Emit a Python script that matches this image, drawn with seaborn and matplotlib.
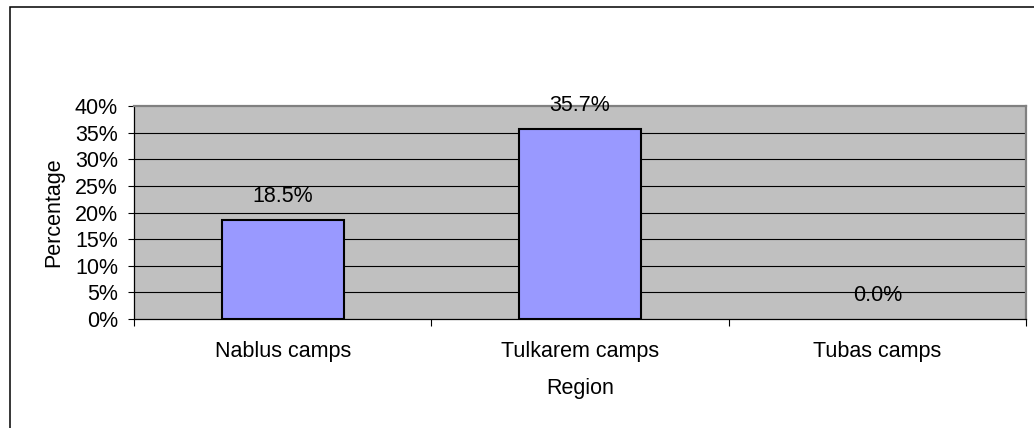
import matplotlib
matplotlib.use("Agg")
import matplotlib.pyplot as plt
import matplotlib.ticker as mticker
from matplotlib.patches import Rectangle
import seaborn as sns
import pandas as pd

regions = ["Nablus camps", "Tulkarem camps", "Tubas camps"]
percentages = [18.5, 35.7, 0.0]
y_ticks = [0, 5, 10, 15, 20, 25, 30, 35, 40]

df = pd.DataFrame({"Region": regions, "Percentage": percentages})

sns.set_theme(style="white")
plt.rcParams["font.family"] = ["Liberation Sans", "DejaVu Sans"]

FS = 15.5
W, H = 1034, 428
fig = plt.figure(figsize=(W / 100, H / 100), dpi=100)
fig.patch.set_facecolor("white")

# outer chart frame (extends past right and bottom edges)
fig.add_artist(Rectangle((9.5 / W, -0.05), 1.2, 1 - 6.5 / H + 0.05, transform=fig.transFigure,
                         fill=False, edgecolor="black", linewidth=1.1))

ax = fig.add_axes([134 / W, 1 - 319 / H, (1026 - 134) / W, (319 - 106) / H])
ax.set_facecolor("#C0C0C0")

sns.barplot(data=df, x="Region", y="Percentage", ax=ax, color="#9999FF",
            saturation=1, width=0.41, edgecolor="black", linewidth=1.5, zorder=3)

# a zero-height bar is not outlined
for patch in ax.patches:
    if patch.get_height() == 0:
        patch.set_linewidth(0)

ax.set_ylim(0, 40)
ax.set_xlim(-0.5, len(regions) - 0.5)
ax.set_yticks(y_ticks)
ax.yaxis.set_major_formatter(mticker.FuncFormatter(lambda v, p: f"{v:.0f}%"))

for y in y_ticks[1:-1]:
    ax.axhline(y, color="black", linewidth=0.8, zorder=1)

# category boundary ticks
ax.set_xticks([i - 0.5 for i in range(len(regions) + 1)], minor=True)
ax.set_xticks(range(len(regions)))
ax.set_xticklabels(regions)
ax.tick_params(axis="x", which="major", length=0, pad=16, labelsize=FS, colors="black")
ax.tick_params(axis="x", which="minor", length=5, width=0.8, color="black", direction="out", bottom=True)
ax.tick_params(axis="y", length=4.5, width=0.8, color="black", direction="out", left=True,
               labelsize=FS, pad=7, labelcolor="black")

for side in ["top", "right"]:
    ax.spines[side].set_color("#808080")
    ax.spines[side].set_linewidth(1.6)
for side in ["left", "bottom"]:
    ax.spines[side].set_color("black")
    ax.spines[side].set_linewidth(0.9)

for i, v in enumerate(percentages):
    ax.annotate(f"{v:.1f}%", xy=(i, v), xytext=(0, 17), textcoords="offset points",
                ha="center", va="center", fontsize=FS, color="black", zorder=5)

ax.set_xlabel("Region", fontsize=FS, color="black", labelpad=11.5)
ax.set_ylabel("Percentage", fontsize=FS, color="black", labelpad=8)

fig.savefig("out.png", dpi=100, facecolor="white")
